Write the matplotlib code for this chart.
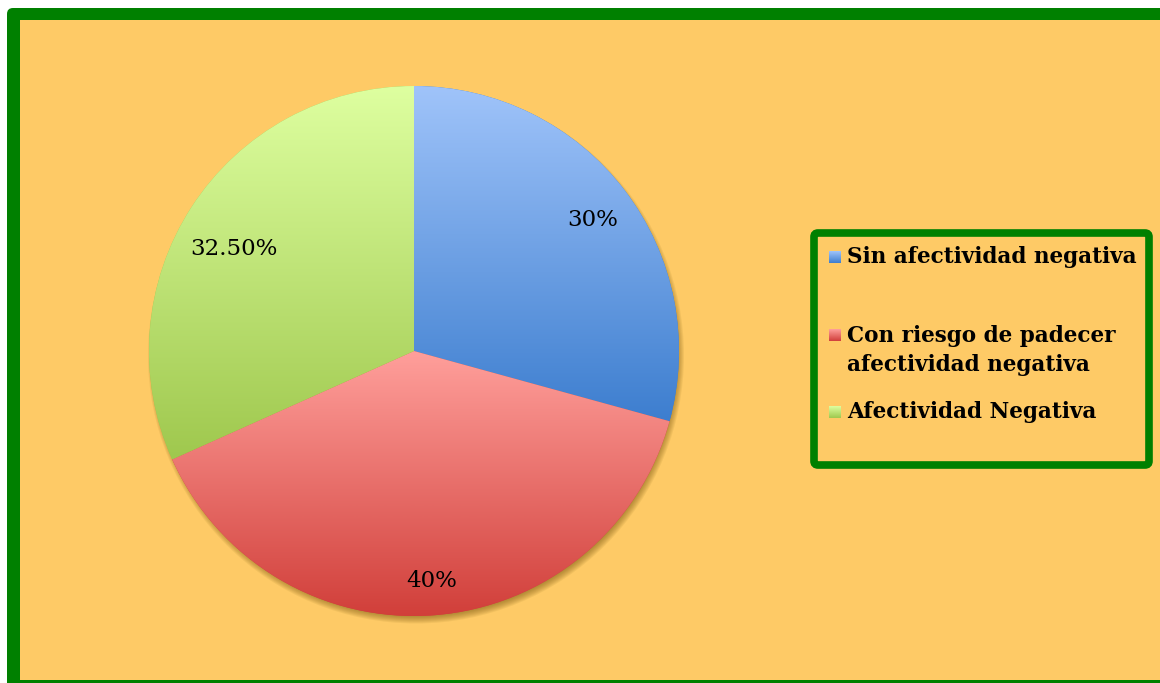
import numpy as np
import matplotlib
matplotlib.use("Agg")
import matplotlib.pyplot as plt
from matplotlib.patches import Rectangle, FancyBboxPatch, Circle
from matplotlib.colors import LinearSegmentedColormap

categories = ["Sin afectividad negativa",
              "Con riesgo de padecer\nafectividad negativa",
              "Afectividad Negativa"]
values = [30, 40, 32.5]
value_labels = ["30%", "40%", "32.50%"]
top_colors = ["#A0C4FA", "#FF9F9B", "#DEFFA0"]
bottom_colors = ["#3D7ECF", "#D13F3A", "#9FC84E"]

W, H = 1160, 683
BG = "#FECA66"
GREEN = "#008000"

fig = plt.figure(figsize=(11.6, 6.83), dpi=100)
fig.patch.set_facecolor("white")
ax = fig.add_axes([0, 0, 1, 1])

# frame
ax.add_patch(FancyBboxPatch((7, -20), W + 30, H - 8 + 20, boxstyle="round,pad=0,rounding_size=6",
                            facecolor=GREEN, edgecolor="none", zorder=0))
ax.add_patch(Rectangle((20, 3), W, H - 20 - 3, facecolor=BG, edgecolor="none", zorder=0.5))

cx, cy, R = 414, 332, 265

# soft shadow
for k in range(8):
    ax.add_patch(Circle((cx + 2, cy - 4.5), R + 3 - k, facecolor=(0.42, 0.30, 0.03),
                        alpha=0.08, edgecolor="none", zorder=1))

wedges, _ = ax.pie(values, center=(cx, cy), radius=R, startangle=90, counterclock=False,
                   frame=True, wedgeprops=dict(linewidth=0, zorder=2))

grad = np.linspace(0, 1, 256).reshape(-1, 1)
for w, tc, bc in zip(wedges, top_colors, bottom_colors):
    w.set_facecolor(bc)
    ext = w.get_path().get_extents()
    cmap = LinearSegmentedColormap.from_list("g", [bc, tc])
    im = ax.imshow(grad, extent=(ext.x0, ext.x1, ext.y0, ext.y1), origin="lower",
                   cmap=cmap, aspect="auto", zorder=3, interpolation="bilinear")
    im.set_clip_path(w)

dists = [0.835, 0.87, 0.78]
angle_shift = [-1, 0, 3.5]
for w, lab, d, sh in zip(wedges, value_labels, dists, angle_shift):
    th = np.deg2rad((w.theta1 + w.theta2) / 2 + sh)
    ax.text(cx + d * R * np.cos(th), cy + d * R * np.sin(th), lab, ha="center", va="center",
            fontsize=16.5, family="DejaVu Serif", color="black", zorder=5)

# legend
ax.add_patch(FancyBboxPatch((814, 683 - 465), 335, 232, boxstyle="round,pad=0,rounding_size=4",
                            facecolor=BG, edgecolor=GREEN, linewidth=5.5, zorder=4))
ys = [683 - 257, 683 - 335, 683 - 412]
text_ys = [683 - 257, 683 - 350.5, 683 - 412]
sq = 12
for cat, tc, bc, y, ty in zip(categories, top_colors, bottom_colors, ys, text_ys):
    cmap = LinearSegmentedColormap.from_list("g", [bc, tc])
    ax.imshow(grad, extent=(829, 829 + sq, y - sq / 2, y + sq / 2), origin="lower",
              cmap=cmap, aspect="auto", zorder=5)
    ax.text(847, ty, cat, ha="left", va="center", fontsize=15.5, family="DejaVu Serif",
            fontweight="bold", color="black", linespacing=1.4, zorder=6)

ax.set_xlim(0, W)
ax.set_ylim(0, H)
ax.set_aspect("auto")
ax.axis("off")

fig.savefig("out.png", dpi=100, facecolor=fig.get_facecolor())
